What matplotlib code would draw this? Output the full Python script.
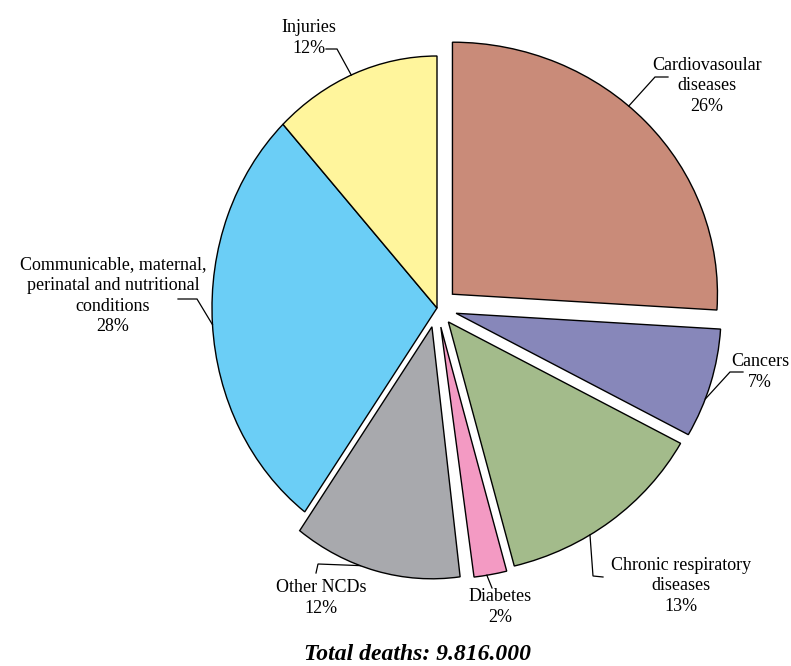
import numpy as np
import matplotlib
matplotlib.use("Agg")
import matplotlib.pyplot as plt
from matplotlib.transforms import Affine2D

plt.rcParams["font.family"] = ["Liberation Serif", "DejaVu Serif"]

# ---- data ----
categories = [
    "Cardiovasoular\ndiseases",
    "Cancers",
    "Chronic respiratory\ndiseases",
    "Diabetes",
    "Other NCDs",
    "Communicable, maternal,\nperinatal and nutritional\nconditions",
    "Injuries",
]
shares = [26, 7, 13, 2, 12, 28, 12]
colors = ["#C98B79", "#8787BA", "#A3BB8B", "#F39AC3", "#A8A9AD", "#6BCEF6", "#FFF59C"]
explode = [0.08, 0.075, 0.07, 0.077, 0.077, 0, 0]
total_label = "Total deaths: 9.816.000"

# ---- layout (pixels) ----
W, H, DPI = 791, 666, 100
CX, CY = 437, 308          # pie centre
RX, RY = 265, 252          # pixels per data unit
SQUEEZE = 225 / RX         # left-hand wedges are drawn narrower
squeezed = [False, False, False, False, True, True, True]

# angle on each wedge's arc where the leader line starts
anchor_deg = [48.3, -19.9, -57.7, -80.0, -108.6, 183.8, 112.4]
# leader elbow / end points and label centres
leaders = [
    [(655, 77), (668, 77)],
    [(730, 372), (743, 372)],
    [(593, 576), (603, 577)],
    [(492, 588)],
    [(318, 564), (316, 573)],
    [(197, 299), (178, 299)],
    [(337, 49), (326, 49)],
]
label_pos = [(707, 86), (760, 372), (681, 586), (500, 607), (321, 598), (113, 296), (309, 38)]


def px(x, y):
    return (x - CX) / RX, (CY - y) / RY


fig = plt.figure(figsize=(W / DPI, H / DPI), dpi=DPI)
ax = fig.add_axes([0, 0, 1, 1])

wedges, _ = ax.pie(
    shares, colors=colors, explode=explode, startangle=90, counterclock=False,
    wedgeprops=dict(edgecolor="black", linewidth=1.0),
)
for w, sq in zip(wedges, squeezed):
    if sq:
        cx, cy = w.center
        tr = Affine2D().translate(-cx, -cy).scale(SQUEEZE, 1.0).translate(cx, cy)
        w.set_transform(tr + ax.transData)

for i, w in enumerate(wedges):
    a = np.deg2rad(anchor_deg[i])
    cx, cy = w.center
    dx, dy = w.r * np.cos(a), w.r * np.sin(a)
    if squeezed[i]:
        dx *= SQUEEZE
    pts = [(cx + dx, cy + dy)] + [px(*p) for p in leaders[i]]
    xs, ys = zip(*pts)
    ax.plot(xs, ys, color="black", lw=0.9, solid_joinstyle="miter")
    tx, ty = px(*label_pos[i])
    ax.text(tx, ty, f"{categories[i]}\n{shares[i]}%", ha="center", va="center",
            fontsize=13, linespacing=1.28)

tx, ty = px(418, 660)
ax.text(tx, ty, total_label, ha="center", va="baseline", fontsize=17,
        fontweight="bold", fontstyle="italic")

ax.set_xlim(-CX / RX, (W - CX) / RX)
ax.set_ylim((CY - H) / RY, CY / RY)
ax.set_aspect("auto")
ax.axis("off")

fig.savefig("out.png", dpi=DPI)
